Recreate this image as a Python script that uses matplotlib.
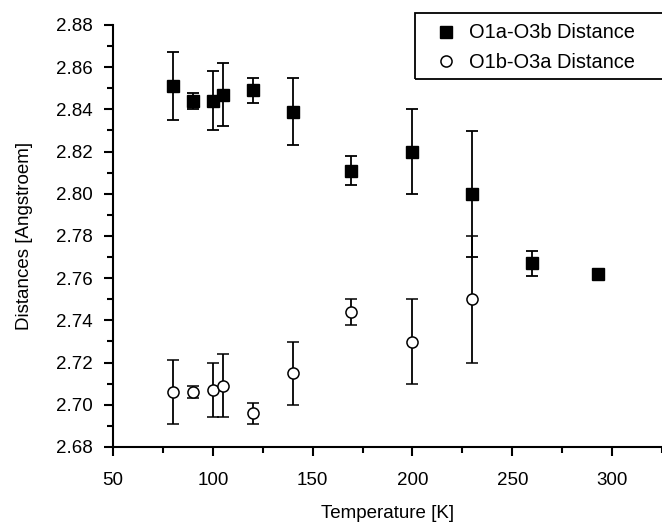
"""Recreate the O1a-O3b / O1b-O3a distance vs temperature chart."""

import matplotlib

matplotlib.use("Agg")
import matplotlib.pyplot as plt
from matplotlib.patches import Rectangle
from matplotlib.ticker import MultipleLocator

plt.rcParams["font.family"] = ["Liberation Sans", "DejaVu Sans"]

temp_a = [80, 90, 100, 105, 120, 140, 169, 200, 230, 260, 293]
dist_a = [2.851, 2.844, 2.844, 2.847, 2.849, 2.839, 2.811, 2.820, 2.800, 2.767, 2.762]
err_a = [0.016, 0.004, 0.014, 0.015, 0.006, 0.016, 0.007, 0.020, 0.030, 0.006, 0.0]

temp_b = [80, 90, 100, 105, 120, 140, 169, 200, 230]
dist_b = [2.706, 2.706, 2.707, 2.709, 2.696, 2.715, 2.744, 2.730, 2.750]
err_b = [0.015, 0.003, 0.013, 0.015, 0.005, 0.015, 0.006, 0.020, 0.030]

W, H = 662, 524
fig = plt.figure(figsize=(W / 100, H / 100), dpi=100)
ax = fig.add_axes([113 / W, 1 - 447 / H, 1 - 113 / W, (447 - 25) / H])

ax.errorbar(
    temp_a, dist_a, yerr=err_a, fmt="s", color="black", markersize=8,
    capsize=4.5, elinewidth=1.3, capthick=1.3, label="O1a-O3b Distance",
)
ax.errorbar(
    temp_b, dist_b, yerr=err_b, fmt="o", color="black", markerfacecolor="white",
    markersize=8, markeredgewidth=1.1, capsize=4.5, elinewidth=1.3, capthick=1.3,
    label="O1b-O3a Distance",
)

ax.set_xlim(50, 325)
ax.set_ylim(2.68, 2.88)
ax.xaxis.set_major_locator(MultipleLocator(50))
ax.xaxis.set_minor_locator(MultipleLocator(25))
ax.yaxis.set_major_locator(MultipleLocator(0.02))
ax.yaxis.set_minor_locator(MultipleLocator(0.01))
ax.yaxis.set_major_formatter(lambda v, p: f"{v:.2f}")

for side in ("top", "right"):
    ax.spines[side].set_visible(False)
for side in ("left", "bottom"):
    ax.spines[side].set_linewidth(1.5)

ax.tick_params(which="major", direction="out", length=6.3, width=1.5, labelsize=13.5)
ax.tick_params(which="minor", direction="out", length=4, width=1.5)
ax.tick_params(axis="x", pad=12)
ax.tick_params(axis="y", pad=8.5)

ax.set_xlabel("Temperature [K]", fontsize=13.5, labelpad=11)
ax.set_ylabel("Distances [Angstroem]", fontsize=13.5, labelpad=16)

# legend without its own frame, boxed by a rectangle that runs off the right edge
handles, labels = ax.get_legend_handles_labels()
handles = [h[0] for h in handles]
ax.legend(
    handles, labels, loc="center left", bbox_to_anchor=(436 / W, 1 - 47.5 / H),
    bbox_transform=fig.transFigure, borderaxespad=0, borderpad=0, frameon=False,
    fontsize=14.4, handlelength=1.0, handletextpad=0.65, labelspacing=0.5,
)
fig.add_artist(
    Rectangle(
        (415 / W, 1 - 79 / H), 260 / W, 66.3 / H, transform=fig.transFigure,
        fill=False, edgecolor="black", linewidth=1.3, clip_on=False,
    )
)

fig.savefig("out.png", dpi=100)
